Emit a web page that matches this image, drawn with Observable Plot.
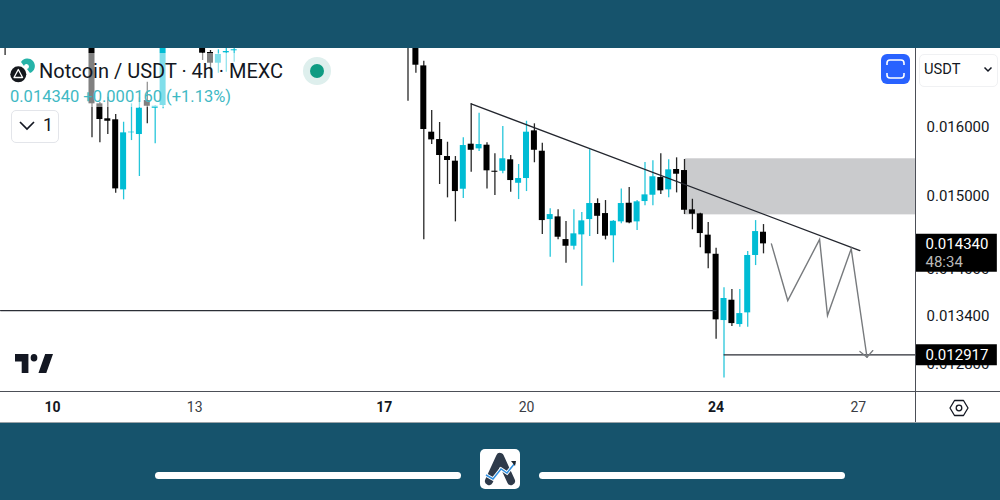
<!DOCTYPE html>
<html><head><meta charset="utf-8">
<script src="https://cdn.jsdelivr.net/npm/d3@7"></script>
<script src="https://cdn.jsdelivr.net/npm/@observablehq/plot@0.6"></script>
<style>
html,body{margin:0;padding:0;background:#16536c;overflow:hidden}
#page{position:relative;width:1000px;height:500px;background:#16536c;font-family:Roboto,sans-serif;overflow:hidden}
#chart{position:absolute;left:0;top:48px}
#page>div,#page>svg.a{position:absolute}
</style></head><body>
<div id="page">
<div id="chart"></div>
<div style="left:0;top:391px;width:1000px;height:1px;background:#4c4f57"></div>
<div style="left:915px;top:48px;width:1px;height:374px;background:#4c4f57"></div>
<div style="left:0;top:422px;width:1000px;height:1px;background:#9aa3a8"></div>

<div style="left:8px;top:53px;width:227px;height:54px;background:rgba(255,255,255,.5)"></div>
<svg class="a" style="left:8px;top:56px" width="30" height="30" viewBox="0 0 30 30">
  <path d="M13 6 a7.5 7.5 0 1 1 9 11 l-3 -4 a2.5 2.5 0 1 0 -3 -3z" fill="#26b3a8"/>
  <circle cx="10.3" cy="18.3" r="8" fill="#15181d"/>
  <path d="M10.3 13.5 L14.6 21.5 H6 Z" fill="none" stroke="#fff" stroke-width="1.3" stroke-linejoin="round"/>
</svg>
<div style="left:39px;top:59px;font-size:20px;line-height:24px;color:#131722;white-space:nowrap">Notcoin / USDT · 4h · MEXC</div>
<div style="left:10px;top:87px;font-size:16.5px;line-height:20px;color:#3fb9c4;white-space:nowrap">0.014340 +0.000160 (+1.13%)</div>
<div style="left:303px;top:57px;width:28px;height:28px;border-radius:50%;background:#deefed"></div>
<div style="left:310px;top:64px;width:14px;height:14px;border-radius:50%;background:#0e9b82"></div>
<div style="left:11px;top:110px;width:46px;height:31px;border:1px solid #e3e5ea;border-radius:5px;background:#fff;box-sizing:content-box"></div>
<svg class="a" style="left:18px;top:119px" width="18" height="14" viewBox="0 0 18 14"><path d="M2 3 L9 10 L16 3" fill="none" stroke="#131722" stroke-width="1.7"/></svg>
<div style="left:43px;top:115px;font-size:18px;line-height:20px;color:#131722">1</div>

<div style="left:881px;top:54px;width:29px;height:30px;border-radius:6px;background:#2962ff"></div>
<svg class="a" style="left:881px;top:54px" width="29" height="30" viewBox="0 0 29 30"><path d="M6 11 V9 a3 3 0 0 1 3 -3 H20 a3 3 0 0 1 3 3 V11 M6 19 V21 a3 3 0 0 0 3 3 H20 a3 3 0 0 0 3 -3 V19" fill="none" stroke="#fff" stroke-width="1.6"/></svg>
<div style="left:919px;top:54px;width:77px;height:31px;border:1px solid #f0f1f3;border-radius:5px;background:#fff"></div>
<div style="left:924px;top:59px;font-size:14.7px;line-height:20px;color:#131722">USDT</div>
<svg class="a" style="left:983px;top:66px" width="10" height="7" viewBox="0 0 10 7"><path d="M1.5 1.5 L5 5 L8.5 1.5" fill="none" stroke="#131722" stroke-width="1.5"/></svg>

<svg class="a" style="left:15px;top:354px" width="38" height="19" viewBox="2 6 34 15" preserveAspectRatio="none"><path d="M14 6H2v6h6v9h6V6zm16 15h-7l6-15h7l-6 15zm-11-9a3 3 0 1 0 0-6 3 3 0 0 0 0 6z" fill="#131722"/></svg>
<svg class="a" style="left:948px;top:398px" width="22" height="20" viewBox="0 0 22 20"><path d="M6.5 2.5 H15.5 L20 10 L15.5 17.5 H6.5 L2 10 Z" fill="none" stroke="#131722" stroke-width="1.3" stroke-linejoin="round"/><circle cx="11" cy="10" r="2.8" fill="none" stroke="#131722" stroke-width="1.3"/></svg>

<div style="left:155px;top:472px;width:306px;height:7px;border-radius:4px;background:#fff"></div>
<div style="left:539px;top:472px;width:306px;height:7px;border-radius:4px;background:#fff"></div>
<svg class="a" style="left:480px;top:449px" width="40" height="40" viewBox="0 0 40 40">
  <rect width="40" height="40" rx="5" fill="#fff"/>
  <path d="M9 32 L20 8 L31 32" fill="none" stroke="#2e3a4a" stroke-width="8" stroke-linecap="round" stroke-linejoin="round"/>
  <path d="M6 26 L13 30 L21 20 L27 24 L35 14" fill="none" stroke="#fff" stroke-width="3.4"/>
  <path d="M6 26 L13 30 L21 20 L27 24 L35 14" fill="none" stroke="#2f8fe0" stroke-width="1.5"/>
  <path d="M31 12 L36 12 L35 17 Z" fill="#1d2530"/>
</svg>
</div>
<script>
// 4-hour candle slots counted from the 10th at 00:00
const slots  = [-6,5,6,7,8,9,10,11,12,13,14,19,20,21,22,23,45,46,47,48,49,50,51,52,53,54,55,56,57,58,59,60,61,62,63,64,65,66,67,68,69,70,71,72,73,74,75,76,77,78,79,80,81,82,83,84,85,86,87,88,89,90];
const opens  = [.0178,.0175,.016361,.016132,.016117,.015088,.015921,.015895,.016412,.016293,.016335,.0175,.017171,.016999,.017166,.017199,.0176,.0176,.016956,.015930,.015820,.015569,.015501,.015097,.015751,.015682,.015736,.015355,.015355,.015521,.015182,.015250,.015950,.015647,.014672,.014709,.014398,.014308,.014462,.014672,.014895,.014755,.014449,.014640,.014899,.014640,.014923,.015012,.015264,.015088,.015380,.015365,.014807,.014751,.014458,.014200,.013341,.013599,.013291,.013438,.014184,.014498];
const highs  = [.0179,.0177,.016380,.016463,.016197,.016080,.016361,.016454,.016697,.016330,.0178,.0177,.017204,.017215,.0176,.0175,.0178,.0178,.017031,.016258,.016076,.015780,.015569,.015846,.016361,.016217,.015771,.015609,.016015,.015584,.015453,.016095,.016056,.015765,.014821,.014807,.014644,.014807,.014769,.015667,.014961,.014937,.014658,.015102,.015120,.014937,.015482,.015506,.015609,.015521,.015550,.015526,.014955,.014759,.014631,.014281,.013758,.013736,.013736,.014237,.014658,.014603];
const lows   = [.017123,.015846,.015771,.015895,.015040,.014947,.015805,.015279,.016056,.015756,.016284,.017042,.016751,.016839,.016855,.017015,.016401,.016839,.014394,.015746,.015164,.014975,.014640,.014965,.015340,.015642,.015102,.015007,.015317,.015054,.014951,.015064,.015478,.014467,.014161,.014394,.014081,.014259,.013779,.014439,.014467,.014394,.014086,.014613,.014613,.014521,.014863,.014863,.015021,.014975,.015045,.014741,.014531,.014286,.014007,.013108,.012640,.013266,.013257,.013257,.014050,.014206];
const closes = [.0177,.016361,.016121,.016095,.015102,.015920,.015930,.016293,.016324,.016324,.0176,.017160,.016999,.017139,.017187,.017215,.0175,.016967,.015970,.015815,.015584,.015511,.015064,.015731,.015661,.015746,.015361,.015340,.015536,.015221,.015250,.015930,.015661,.014658,.014741,.014430,.014308,.014476,.014654,.014895,.014717,.014444,.014648,.014895,.014626,.014919,.015017,.015275,.015074,.015375,.015312,.014801,.014746,.014480,.014206,.013350,.013621,.013303,.013429,.014184,.014507,.014340];
const candles = slots.map((slot,k)=>({slot,open:opens[k],high:highs[k],low:lows[k],close:closes[k]}));

const xDomain = [-6.582, 109.24];
const yDomain = [0.012479, 0.017236];
const priceTicks = [0.016,0.015,0.014,0.0134,0.0128];
const boldSlots = [0,42,84], boldLabels = ["10","17","24"];
const plainSlots = [18,60,102], plainLabels = ["13","20","27"];

const trendSlots = [53,102.2], trendPrices = [0.016361,0.01425];
const supportSlots = [-6.582,84], supportPrices = [0.013467,0.013467];
const targetSlots = [85,109.24], targetPrices = [0.012917,0.012917];
const zoneSlots = [80.1,109.24], zonePrices = [0.014737,0.015536];
const pathSlots = [91,93.07,97.1,98.1,101.1,103.1];
const pathPrices = [0.014340,0.013595,0.014399,0.013404,0.014273,0.012888];
const headSlots = [102.2,103.1,103.84], headPrices = [0.012958,0.012888,0.01297];

const lastPrice = 0.014340, lastLabel = "0.014340", countdown = "48:34";
const targetPrice = 0.012917, targetLabel = "0.012917";
const tagSlots = [109.24,119.6], tagTextSlot = 110.5;

const UP="#00bcd4", DOWN="#000000";
const col = d => d.close>=d.open ? UP : DOWN;
const pts = (xs,ys)=>xs.map((x,i)=>({x,y:ys[i]}));

const chart = Plot.plot({
  width:1000, height:374,
  marginTop:0, marginBottom:31, marginLeft:0, marginRight:85,
  style:{background:"#fff",fontFamily:"Roboto, sans-serif",overflow:"visible"},
  x:{domain:xDomain, range:[0,915], axis:null},
  y:{type:"log", domain:yDomain, axis:null},
  marks:[
    Plot.rect([0],{x1:()=>zoneSlots[0],x2:()=>zoneSlots[1],y1:()=>zonePrices[0],y2:()=>zonePrices[1],fill:"#cacbcd",clip:true}),
    Plot.ruleX(candles,{x:"slot",y1:"low",y2:"high",stroke:col,strokeWidth:1.3,strokeOpacity:.85,clip:true}),
    Plot.rect(candles,{x1:d=>d.slot-.38,x2:d=>d.slot+.38,y1:"open",y2:"close",fill:col,clip:true}),
    Plot.line(pts(supportSlots,supportPrices),{x:"x",y:"y",stroke:"#2b2e36",strokeWidth:1.1}),
    Plot.line(pts(targetSlots,targetPrices),{x:"x",y:"y",stroke:"#2b2e36",strokeWidth:1.1}),
    Plot.line(pts(trendSlots,trendPrices),{x:"x",y:"y",stroke:"#23262e",strokeWidth:1.3}),
    Plot.line(pts(pathSlots,pathPrices),{x:"x",y:"y",stroke:"#777a7d",strokeWidth:1.4,strokeLinejoin:"miter",strokeMiterlimit:10}),
    Plot.line(pts(headSlots,headPrices),{x:"x",y:"y",stroke:"#777a7d",strokeWidth:1.2}),
    Plot.axisX({ticks:boldSlots,tickFormat:(d,i)=>boldLabels[i],tickSize:0,tickPadding:11,fontSize:14,fontWeight:700,fill:"#131722",label:null}),
    Plot.axisX({ticks:plainSlots,tickFormat:(d,i)=>plainLabels[i],tickSize:0,tickPadding:11,fontSize:14,fill:"#3a3d44",label:null}),
    Plot.axisY({anchor:"right",ticks:priceTicks,tickFormat:d3.format(".6f"),tickSize:0,tickPadding:11,fontSize:15,fill:"#131722",label:null}),
    Plot.ruleY([lastPrice],{x1:()=>tagSlots[0],x2:()=>tagSlots[1],dy:9,strokeWidth:38,stroke:"#000"}),
    Plot.ruleY([targetPrice],{x1:()=>tagSlots[0],x2:()=>tagSlots[1],strokeWidth:21,stroke:"#000"}),
    Plot.text([lastPrice],{x:()=>tagTextSlot,y:d=>d,text:()=>lastLabel,textAnchor:"start",fontSize:15,fill:"#fff"}),
    Plot.text([lastPrice],{x:()=>tagTextSlot,y:d=>d,text:()=>countdown,textAnchor:"start",dy:18,fontSize:15,fill:"#b9b9b9"}),
    Plot.text([targetPrice],{x:()=>tagTextSlot,y:d=>d,text:()=>targetLabel,textAnchor:"start",fontSize:15,fill:"#fff"})
  ]
});
document.getElementById("chart").appendChild(chart);
</script>
</body></html>
